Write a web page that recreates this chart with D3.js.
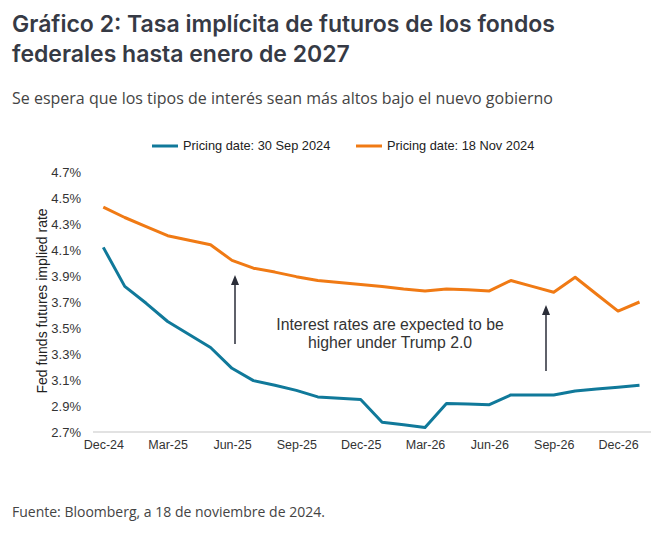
<!DOCTYPE html>
<html><head><meta charset="utf-8">
<script src="https://cdn.jsdelivr.net/npm/d3@7"></script>
<style>body{margin:0;background:#fff}svg{display:block}</style>
</head><body>
<script>
const months = ["Dec-24","Jan-25","Feb-25","Mar-25","Apr-25","May-25","Jun-25","Jul-25","Aug-25","Sep-25","Oct-25","Nov-25","Dec-25","Jan-26","Feb-26","Mar-26","Apr-26","May-26","Jun-26","Jul-26","Aug-26","Sep-26","Oct-26","Nov-26","Dec-26","Jan-27"];
const sep2024 = [4.12,3.82,3.69,3.55,3.45,3.35,3.19,3.095,3.06,3.02,2.97,2.96,2.95,2.775,2.755,2.735,2.92,2.915,2.91,2.985,2.985,2.985,3.015,3.03,3.045,3.06];
const nov2024 = [4.43,4.35,4.28,4.21,4.175,4.14,4.02,3.96,3.93,3.895,3.865,3.85,3.835,3.82,3.80,3.785,3.80,3.795,3.785,3.865,3.82,3.775,3.89,3.76,3.63,3.70];
const yTicks = [2.7,2.9,3.1,3.3,3.5,3.7,3.9,4.1,4.3,4.5,4.7];
const xTickLabels = ["Dec-24","Mar-25","Jun-25","Sep-25","Dec-25","Mar-26","Jun-26","Sep-26","Dec-26"];
const seriesNames = ["Pricing date: 30 Sep 2024","Pricing date: 18 Nov 2024"];
const colors = ["#10799a","#f07a14"];

const W=668,H=546;
const svg=d3.select("body").append("svg").attr("width",W).attr("height",H);
const x=d3.scalePoint().domain(months).range([103.3,639.5]);
const y=d3.scaleLinear().domain([2.7,4.7]).range([432,172]);

// Title
const tfont="Inter, 'DejaVu Sans', sans-serif";
svg.append("text").attr("x",12).attr("y",32).attr("font-family",tfont).attr("font-weight",600).attr("font-size",23).attr("fill","#363a45").text("Gráfico 2: Tasa implícita de futuros de los fondos");
svg.append("text").attr("x",12).attr("y",62).attr("font-family",tfont).attr("font-weight",600).attr("font-size",23).attr("fill","#363a45").text("federales hasta enero de 2027");
svg.append("text").attr("x",12).attr("y",104).attr("font-family","'Open Sans', sans-serif").attr("font-size",16).attr("fill","#444").text("Se espera que los tipos de interés sean más altos bajo el nuevo gobierno");
svg.append("text").attr("x",12).attr("y",517).attr("font-family","'Open Sans', sans-serif").attr("font-size",14).attr("fill","#444").text("Fuente: Bloomberg, a 18 de noviembre de 2024.");

const af="Arial, 'Liberation Sans', sans-serif";
// baseline
svg.append("line").attr("x1",93).attr("x2",651).attr("y1",y(2.7)).attr("y2",y(2.7)).attr("stroke","#d9d9d9").attr("stroke-width",1.5);

// y axis
const yAxis=d3.axisLeft(y).tickValues(yTicks).tickFormat(d=>d.toFixed(1)+"%").tickSize(0).tickPadding(0);
const gy=svg.append("g").attr("transform","translate(81,0)").call(yAxis);
gy.select(".domain").remove();
gy.selectAll("text").attr("font-family",af).attr("font-size",13).attr("fill","#333").attr("dy","0.35em");

// x axis
const xAxis=d3.axisBottom(x).tickValues(xTickLabels).tickSize(0).tickPadding(0);
const gx=svg.append("g").attr("transform","translate(0,440)").call(xAxis);
gx.select(".domain").remove();
gx.selectAll("text").attr("font-family",af).attr("font-size",12.5).attr("fill","#333").attr("dy","0.71em");

// y title
svg.append("text").attr("transform","translate(47,301) rotate(-90)").attr("text-anchor","middle").attr("font-family",af).attr("font-size",14).attr("fill","#222").text("Fed funds futures implied rate");

// lines
const line=d3.line().x((d,i)=>x(months[i])).y(d=>y(d));
[sep2024,nov2024].forEach((s,k)=>{
  svg.append("path").datum(s).attr("d",line).attr("fill","none").attr("stroke",colors[k]).attr("stroke-width",3).attr("stroke-linejoin","round");
});

// legend
const leg=[{x:152},{x:356}];
leg.forEach((l,k)=>{
  svg.append("line").attr("x1",l.x).attr("x2",l.x+26).attr("y1",146).attr("y2",146).attr("stroke",colors[k]).attr("stroke-width",3);
  svg.append("text").attr("x",l.x+31).attr("y",146).attr("dy","0.35em").attr("font-family",af).attr("font-size",12.8).attr("fill","#222").text(seriesNames[k]);
});

// annotation
svg.append("text").attr("x",390).attr("y",330).attr("text-anchor","middle").attr("font-family",af).attr("font-size",15.8).attr("fill","#333").text("Interest rates are expected to be");
svg.append("text").attr("x",390).attr("y",348).attr("text-anchor","middle").attr("font-family",af).attr("font-size",15.8).attr("fill","#333").text("higher under Trump 2.0");

// arrows
const arrows=[{x:235,y1:344,y2:275},{x:546,y1:371,y2:305}];
arrows.forEach(a=>{
  svg.append("line").attr("x1",a.x).attr("x2",a.x).attr("y1",a.y1).attr("y2",a.y2+8).attr("stroke","#2a2d38").attr("stroke-width",1.5);
  svg.append("path").attr("d",`M${a.x},${a.y2} L${a.x-4},${a.y2+10} L${a.x+4},${a.y2+10} Z`).attr("fill","#2a2d38");
});
</script>
</body></html>
